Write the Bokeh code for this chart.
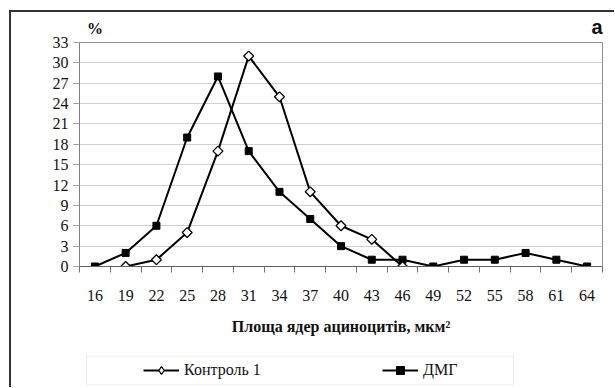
import math
from bokeh.plotting import figure
from bokeh.layouts import column
from bokeh.models import (Range1d, FixedTicker, Legend, LegendItem, LinearAxis,
                          ColumnDataSource, BoxAnnotation)
from bokeh.embed import file_html
from bokeh.resources import INLINE

# ---- data ----
x_ticks = [16, 19, 22, 25, 28, 31, 34, 37, 40, 43, 46, 49, 52, 55, 58, 61, 64]
y_ticks = [0, 3, 6, 9, 12, 15, 18, 21, 24, 27, 30, 33]

kontrol_x = [19, 22, 25, 28, 31, 34, 37, 40, 43, 46]
kontrol_y = [0, 1, 5, 17, 31, 25, 11, 6, 4, 0]

dmg_x = [16, 19, 22, 25, 28, 31, 34, 37, 40, 43, 46, 49, 52, 55, 58, 61, 64]
dmg_y = [0, 2, 6, 19, 28, 17, 11, 7, 3, 1, 1, 0, 1, 1, 2, 1, 0]

name_kontrol = "Контроль 1"
name_dmg = "ДМГ"
x_title = "Площа ядер ациноцитів, мкм²"
y_title = "%"
panel_tag = "a"

step = x_ticks[1] - x_ticks[0]
boundaries = [t - step / 2 for t in x_ticks] + [x_ticks[-1] + step / 2]

SERIF = "Liberation Serif"
INK = "#111111"

p = figure(width=603, height=342, output_backend="svg", toolbar_location=None,
           x_range=Range1d(boundaries[0], boundaries[-1]),
           y_range=Range1d(y_ticks[0], y_ticks[-1]),
           min_border_left=68, min_border_right=12, min_border_top=29,
           min_border_bottom=88)
p.background_fill_color = "white"
p.border_fill_color = "white"
p.outline_line_color = "#909090"
p.outline_line_width = 1

# x axis (bottom)
p.xaxis.ticker = FixedTicker(ticks=x_ticks, minor_ticks=boundaries)
p.xaxis.major_tick_line_color = None
p.xaxis.major_tick_out = 0
p.xaxis.major_tick_in = 0
p.xaxis.minor_tick_line_color = "#707070"
p.xaxis.minor_tick_out = 6
p.xaxis.minor_tick_in = 0
p.xaxis.axis_line_color = "#606060"
p.xaxis.axis_line_width = 1
p.xaxis.major_label_text_font = SERIF
p.xaxis.major_label_text_font_size = "16px"
p.xaxis.major_label_text_color = INK
p.xaxis.major_label_standoff = 17
p.xaxis.axis_label = x_title
p.xaxis.axis_label_text_font = SERIF
p.xaxis.axis_label_text_font_size = "16px"
p.xaxis.axis_label_text_font_style = "bold"
p.xaxis.axis_label_text_color = INK
p.xaxis.axis_label_standoff = 14

# y axis
p.yaxis.ticker = FixedTicker(ticks=y_ticks)
p.yaxis.axis_line_color = "#808080"
p.yaxis.major_tick_line_color = "#a0a0a0"
p.yaxis.major_tick_out = 6
p.yaxis.major_tick_in = 0
p.yaxis.minor_tick_line_color = None
p.yaxis.major_label_text_font = SERIF
p.yaxis.major_label_text_font_size = "16px"
p.yaxis.major_label_text_color = INK
p.yaxis.major_label_standoff = 5

p.xgrid.grid_line_color = None
p.ygrid.grid_line_color = "#d0d0d0"
p.ygrid.grid_line_width = 1

# top axis carrying the unit "%" and the panel tag "a"
top = LinearAxis(ticker=FixedTicker(ticks=[x_ticks[0]]),
                 major_label_overrides={x_ticks[0]: y_title})
top.axis_line_color = None
top.major_tick_line_color = None
top.minor_tick_line_color = None
top.major_tick_out = 0
top.major_tick_in = 0
top.major_label_standoff = 6
top.major_label_text_font = SERIF
top.major_label_text_font_size = "16px"
top.major_label_text_font_style = "bold"
top.major_label_text_color = INK
top.axis_label = panel_tag + "\u00a0\u00a0"
top.axis_label_align = "end"
top.axis_label_text_font = "Liberation Sans"
top.axis_label_text_font_size = "20px"
top.axis_label_text_font_style = "bold"
top.axis_label_text_color = INK
top.axis_label_standoff = -21
p.add_layout(top, "above")

# series
src_k = ColumnDataSource(dict(x=kontrol_x, y=kontrol_y))
src_d = ColumnDataSource(dict(x=dmg_x, y=dmg_y))

p.line("x", "y", source=src_k, line_color="black", line_width=2)
p.line("x", "y", source=src_d, line_color="black", line_width=2)
p.scatter("x", "y", source=src_d, marker="square", size=7,
          fill_color="black", line_color="black", line_width=1)
p.scatter("x", "y", source=src_k, marker="square", angle=math.pi / 4,
          size=7, fill_color="white", line_color="black", line_width=1.3)

# legend strip below the chart
q = figure(width=603, height=33, output_backend="svg", toolbar_location=None,
           x_axis_type=None, y_axis_type=None,
           x_range=p.x_range, y_range=p.y_range,
           min_border_left=68, min_border_right=12, min_border_top=1,
           min_border_bottom=2)
q.grid.visible = False
q.outline_line_color = None
q.background_fill_color = "white"
q.border_fill_color = "white"

lk2 = q.line("x", "y", source=src_k, line_color="black", line_width=2, visible=False)
ld2 = q.line("x", "y", source=src_d, line_color="black", line_width=2, visible=False)
md2 = q.scatter("x", "y", source=src_d, marker="square", size=7,
                fill_color="black", line_color="black", line_width=1, visible=False)
mk2 = q.scatter("x", "y", source=src_k, marker="diamond", size=9,
                fill_color="white", line_color="black", line_width=1.3, visible=False)

box = BoxAnnotation(left=7, right=434, bottom=0.5, top=29.5,
                    left_units="screen", right_units="screen",
                    bottom_units="screen", top_units="screen",
                    fill_color="white", fill_alpha=1,
                    line_color="#c0c0c0", line_width=1, line_dash="solid")
q.add_layout(box)

leg = Legend(items=[LegendItem(label=name_kontrol, renderers=[lk2, mk2]),
                    LegendItem(label=name_dmg, renderers=[ld2, md2])],
             location=(64, 5), orientation="horizontal",
             padding=0, margin=0, spacing=112, glyph_width=36, glyph_height=20,
             label_width=86, label_height=20, label_standoff=5,
             border_line_color=None, background_fill_alpha=0,
             inactive_fill_alpha=0,
             label_text_font=SERIF, label_text_font_size="16px",
             label_text_color=INK)
q.add_layout(leg, "center")

layout = column(p, q, spacing=0,
                styles={"margin-left": "9px", "margin-top": "10px",
                        "border-left": "2px solid #333333",
                        "border-top": "2px solid #333333"})

open("out.html", "w").write(file_html(layout, INLINE))
